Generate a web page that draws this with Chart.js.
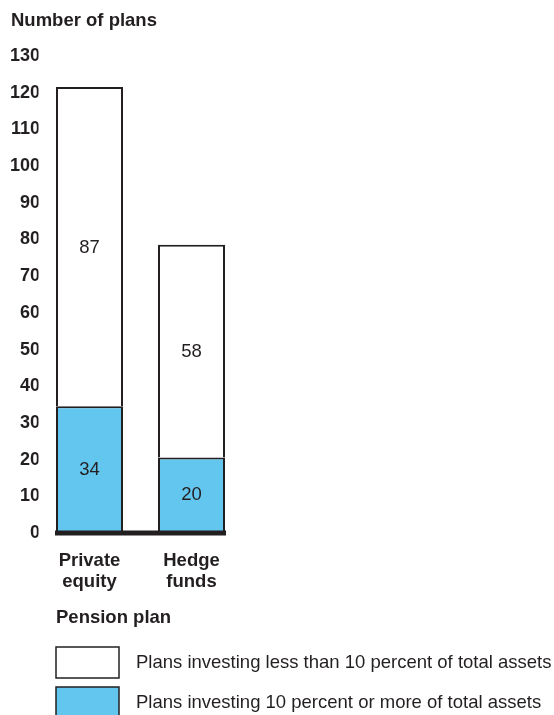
<!DOCTYPE html>
<html>
<head>
<meta charset="utf-8">
<script src="https://cdn.jsdelivr.net/npm/chart.js@4.4.1/dist/chart.umd.min.js"></script>
<style>
  html, body { margin: 0; padding: 0; background: #fff; }
  #wrap { width: 554px; height: 715px; position: relative; }
</style>
</head>
<body>
<div id="wrap"><canvas id="plansChart"></canvas></div>
<script>
// --- Data ---
const categories = [['Private', 'equity'], ['Hedge', 'funds']];
const tenOrMore = [34, 20];
const lessThanTen = [87, 58];
const seriesLabels = [
    'Plans investing 10 percent or more of total assets',
    'Plans investing less than 10 percent of total assets'
];
const yTicks = [0, 10, 20, 30, 40, 50, 60, 70, 80, 90, 100, 110, 120, 130];

const FONT = "'Liberation Sans', Arial, sans-serif";
const INK = '#231f20';
const BLUE = '#63c6ee';

// --- Plugins ---

// values printed in the middle of each segment
const segmentLabels = {
    id: 'segmentLabels',
    afterDatasetsDraw(chart) {
        const ctx = chart.ctx;
        ctx.save();
        ctx.font = '18.5px ' + FONT;
        ctx.fillStyle = INK;
        ctx.textAlign = 'center';
        ctx.textBaseline = 'middle';
        chart.data.datasets.forEach((ds, i) => {
            chart.getDatasetMeta(i).data.forEach((bar, j) => {
                ctx.fillText(String(ds.data[j]), bar.x, (bar.y + bar.base) / 2 + 1);
            });
        });
        ctx.restore();
    }
};

// thick zero line, title and the legend block
const decorations = {
    id: 'decorations',
    afterDraw(chart) {
        const ctx = chart.ctx;
        const bars = chart.getDatasetMeta(0).data;
        const y0 = chart.scales.y.getPixelForValue(0);
        const left = bars[0].x - bars[0].width / 2 - 1;
        const right = bars[bars.length - 1].x + bars[bars.length - 1].width / 2 + 1;

        ctx.save();
        ctx.fillStyle = INK;
        ctx.fillRect(left, y0 - 0.5, right - left, 5);

        ctx.textBaseline = 'middle';
        ctx.textAlign = 'left';
        ctx.font = 'bold 18.5px ' + FONT;
        ctx.fillText('Number of plans', 11, 21);
        ctx.fillText('Pension plan', 56, 618);

        // legend, top item is the upper (white) segment
        const order = chart.data.datasets.map((d, i) => i).reverse();
        const rows = [647, 687];
        ctx.font = '18.5px ' + FONT;
        order.forEach((dsIndex, k) => {
            const ds = chart.data.datasets[dsIndex];
            const top = rows[k];
            ctx.fillStyle = ds.backgroundColor;
            ctx.fillRect(56, top, 63, 31);
            ctx.strokeStyle = INK;
            ctx.lineWidth = 1.5;
            ctx.strokeRect(56, top, 63, 31);
            ctx.fillStyle = INK;
            ctx.fillText(ds.label, 136, top + 16);
        });
        ctx.restore();
    }
};

// --- Chart ---
const ctx = document.getElementById('plansChart').getContext('2d');
const plansChart = new Chart(ctx, {
    type: 'bar',
    data: {
        labels: categories,
        datasets: [{
            label: seriesLabels[0],
            data: tenOrMore,
            backgroundColor: BLUE,
            borderColor: INK,
            borderWidth: 2
        }, {
            label: seriesLabels[1],
            data: lessThanTen,
            backgroundColor: '#ffffff',
            borderColor: INK,
            borderWidth: 2
        }]
    },
    options: {
        responsive: true,
        maintainAspectRatio: false,
        animation: false,
        datasets: {
            bar: { barPercentage: 0.657, categoryPercentage: 1 }
        },
        layout: {
            padding: { top: 54, left: 0, right: 311.5, bottom: 0 }
        },
        scales: {
            x: {
                stacked: true,
                grid: { display: false, drawTicks: false },
                border: { display: false },
                afterFit: (scale) => { scale.height = 184; },
                ticks: {
                    color: INK,
                    padding: 20,
                    font: { family: FONT, size: 18.5, weight: 'bold', lineHeight: 1.1 }
                }
            },
            y: {
                stacked: true,
                min: 0,
                max: 130,
                grid: { display: false, drawTicks: false },
                border: { display: false },
                afterFit: (scale) => { scale.width = 38.5; },
                afterBuildTicks: (scale) => { scale.ticks = yTicks.map(v => ({ value: v })); },
                ticks: {
                    color: INK,
                    padding: -1.5,
                    labelOffset: 2,
                    font: { family: FONT, size: 18, weight: 'bold' }
                }
            }
        },
        plugins: {
            legend: { display: false },
            tooltip: { enabled: false }
        }
    },
    plugins: [segmentLabels, decorations]
});
</script>
</body>
</html>
